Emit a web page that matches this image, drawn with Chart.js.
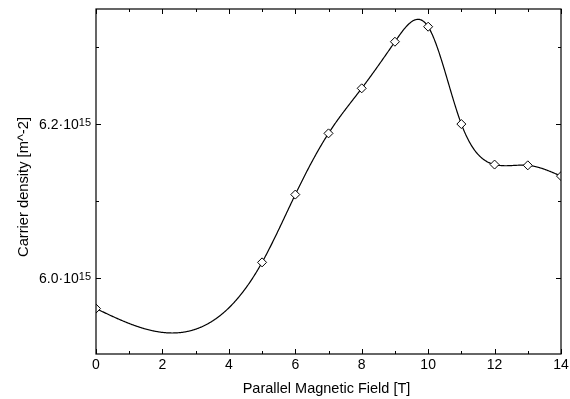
<!DOCTYPE html>
<html>
<head>
<meta charset="utf-8">
<script src="https://cdn.jsdelivr.net/npm/chart.js@4"></script>
<style>
  html, body { margin: 0; padding: 0; background: #fff; }
  #wrap { width: 570px; height: 399px; }
</style>
</head>
<body>
<div id="wrap"><canvas id="densityChart" width="570" height="399"></canvas></div>
<script>
// данные (плотность в единицах 1e15 м^-2)
const fieldT = [0, 5, 6, 7, 8, 9, 10, 11, 12, 13, 14];
const density = [5.960, 6.020, 6.108, 6.1875, 6.246, 6.3065, 6.326, 6.1996, 6.147, 6.146, 6.132];
const xMajorTicks = [0, 2, 4, 6, 8, 10, 12, 14];
const xMinorTicks = [1, 3, 5, 7, 9, 11, 13];
const yMajorTicks = [6.0, 6.2];
const yMinorTicks = [6.1, 6.3];
const yTickMantissa = ['6.0', '6.2'];
const yTickExponent = '15';
const xTitle = 'Parallel Magnetic Field [T]';
const yTitle = 'Carrier density [m^-2]';

const FONT = '"Liberation Sans", Arial, Helvetica, sans-serif';

// натуральный кубический сплайн по точкам
function naturalSpline(xs, ys) {
  const n = xs.length;
  const h = [], alpha = [], l = [1], mu = [0], z = [0];
  const b = [], c = new Array(n).fill(0), d = [];
  for (let i = 0; i < n - 1; i++) h[i] = xs[i + 1] - xs[i];
  for (let i = 1; i < n - 1; i++) {
    alpha[i] = 3 / h[i] * (ys[i + 1] - ys[i]) - 3 / h[i - 1] * (ys[i] - ys[i - 1]);
  }
  for (let i = 1; i < n - 1; i++) {
    l[i] = 2 * (xs[i + 1] - xs[i - 1]) - h[i - 1] * mu[i - 1];
    mu[i] = h[i] / l[i];
    z[i] = (alpha[i] - h[i - 1] * z[i - 1]) / l[i];
  }
  for (let j = n - 2; j >= 0; j--) {
    c[j] = z[j] - mu[j] * c[j + 1];
    b[j] = (ys[j + 1] - ys[j]) / h[j] - h[j] * (c[j + 1] + 2 * c[j]) / 3;
    d[j] = (c[j + 1] - c[j]) / (3 * h[j]);
  }
  return function (x) {
    let j = 0;
    while (j < n - 2 && x > xs[j + 1]) j++;
    const dx = x - xs[j];
    return ys[j] + b[j] * dx + c[j] * dx * dx + d[j] * dx * dx * dx;
  };
}

const framePlugin = {
  id: 'framePlugin',
  beforeDatasetsDraw(chart) {
    const { ctx, chartArea: a, scales: { x, y } } = chart;
    const f = naturalSpline(fieldT, density);
    const x0 = x.getPixelForValue(fieldT[0]);
    const x1 = x.getPixelForValue(fieldT[fieldT.length - 1]);
    ctx.save();
    ctx.beginPath();
    ctx.rect(a.left, a.top, a.right - a.left, a.bottom - a.top);
    ctx.clip();
    ctx.beginPath();
    for (let px = x0; px <= x1; px += 0.5) {
      const py = y.getPixelForValue(f(x.getValueForPixel(px)));
      if (px === x0) ctx.moveTo(px, py); else ctx.lineTo(px, py);
    }
    ctx.strokeStyle = '#000';
    ctx.lineWidth = 1.2;
    ctx.stroke();
    ctx.restore();
  },
  afterDraw(chart) {
    const { ctx, chartArea: a, scales: { x, y } } = chart;
    ctx.save();
    ctx.strokeStyle = '#000';
    ctx.lineWidth = 1.2;
    ctx.strokeRect(a.left, a.top, a.right - a.left, a.bottom - a.top);

    // все засечки направлены внутрь
    ctx.beginPath();
    ctx.lineWidth = 1;
    xMajorTicks.forEach(v => {
      const px = Math.round(x.getPixelForValue(v)) + 0.5;
      ctx.moveTo(px, a.bottom); ctx.lineTo(px, a.bottom - 5);
      ctx.moveTo(px, a.top); ctx.lineTo(px, a.top + 5);
    });
    xMinorTicks.forEach(v => {
      const px = Math.round(x.getPixelForValue(v)) + 0.5;
      ctx.moveTo(px, a.bottom); ctx.lineTo(px, a.bottom - 3);
      ctx.moveTo(px, a.top); ctx.lineTo(px, a.top + 3);
    });
    yMajorTicks.forEach(v => {
      const py = Math.round(y.getPixelForValue(v)) + 0.5;
      ctx.moveTo(a.left, py); ctx.lineTo(a.left + 5, py);
      ctx.moveTo(a.right, py); ctx.lineTo(a.right - 5, py);
    });
    yMinorTicks.forEach(v => {
      const py = Math.round(y.getPixelForValue(v)) + 0.5;
      ctx.moveTo(a.left, py); ctx.lineTo(a.left + 3, py);
      ctx.moveTo(a.right, py); ctx.lineTo(a.right - 3, py);
    });
    ctx.stroke();

    ctx.fillStyle = '#000';
    ctx.font = '14px ' + FONT;
    ctx.textAlign = 'center';
    ctx.textBaseline = 'alphabetic';
    xMajorTicks.forEach(v => {
      ctx.fillText(String(v), x.getPixelForValue(v), a.bottom + 15);
    });

    // подписи оси Y с показателем степени
    yMajorTicks.forEach((v, i) => {
      const py = y.getPixelForValue(v);
      const right = a.left - 5;
      ctx.font = '11px ' + FONT;
      const expW = ctx.measureText(yTickExponent).width;
      ctx.textAlign = 'right';
      ctx.fillText(yTickExponent, right, py + 2.5);
      ctx.font = '14px ' + FONT;
      ctx.fillText(yTickMantissa[i] + '\u00b710', right - expW, py + 5.3);
    });

    ctx.font = '14.5px ' + FONT;
    ctx.textAlign = 'center';
    ctx.fillText(xTitle, (a.left + a.right) / 2 - 2, 393);
    ctx.font = '14.7px ' + FONT;
    ctx.translate(28, 187);
    ctx.rotate(-Math.PI / 2);
    ctx.fillText(yTitle, 0, 0);
    ctx.restore();
  }
};

new Chart(document.getElementById('densityChart'), {
  type: 'scatter',
  data: {
    datasets: [{
      data: fieldT.map((t, i) => ({ x: t, y: density[i] })),
      showLine: false,
      pointStyle: 'rectRot',
      pointRadius: 4.5,
      pointHoverRadius: 4.5,
      pointBackgroundColor: '#fff',
      pointBorderColor: '#000',
      pointBorderWidth: 1
    }]
  },
  options: {
    responsive: false,
    animation: false,
    devicePixelRatio: 1,
    layout: { padding: { left: 96, top: 9, right: 9, bottom: 45 } },
    plugins: { legend: { display: false }, tooltip: { enabled: false } },
    scales: {
      x: { type: 'linear', min: 0, max: 14, display: false },
      y: { type: 'linear', min: 5.901, max: 6.349, display: false }
    }
  },
  plugins: [framePlugin]
});
</script>
</body>
</html>
